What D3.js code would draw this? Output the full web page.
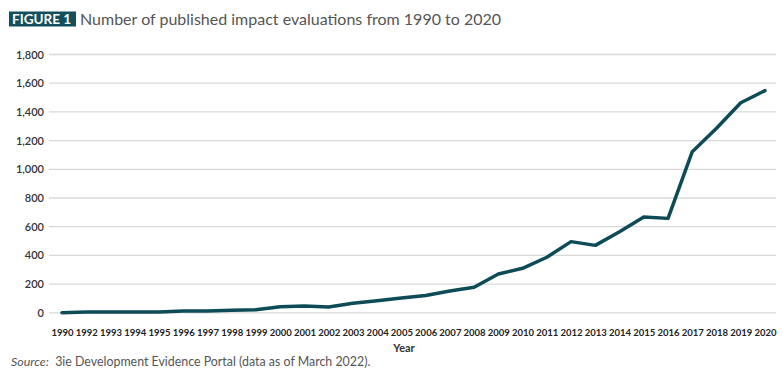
<!DOCTYPE html>
<html>
<head>
<meta charset="utf-8">
<script src="https://cdn.jsdelivr.net/npm/d3@7"></script>
<style>
  body { margin: 0; background: #fff; }
  svg { display: block; font-family: Lato, "Open Sans", sans-serif; }
</style>
</head>
<body>
<svg id="chart" width="783" height="374"></svg>
<script>
// data (1991 is absent in the original axis)
const years = ["1990", "1992", "1993", "1994", "1995", "1996", "1997", "1998", "1999", "2000",
  "2001", "2002", "2003", "2004", "2005", "2006", "2007", "2008", "2009", "2010",
  "2011", "2012", "2013", "2014", "2015", "2016", "2017", "2018", "2019", "2020"];
const evaluations = [1, 5, 5, 5, 6, 12, 12, 17, 22, 42,
  47, 41, 66, 84, 103, 120, 152, 178, 270, 310,
  387, 496, 470, 565, 668, 658, 1123, 1286, 1464, 1548];
const yTicks = [0, 200, 400, 600, 800, 1000, 1200, 1400, 1600, 1800];

const teal = "#0d4b57";
const svg = d3.select("#chart");

const x = d3.scalePoint()
    .domain(years)
    .range([62, 765]);

const y = d3.scaleLinear()
    .domain([0, 1800])
    .range([312.8, 54.5]);

// Title
svg.append("rect")
    .attr("x", 9).attr("y", 11.5)
    .attr("width", 67).attr("height", 15)
    .attr("fill", "#134f5c");
svg.append("text")
    .attr("x", 12).attr("y", 24)
    .attr("fill", "#fff")
    .attr("font-size", 13.5)
    .attr("font-weight", 700)
    .text("FIGURE 1");
svg.append("text")
    .attr("x", 80).attr("y", 24.5)
    .attr("fill", "#555")
    .attr("font-size", 16)
    .text("Number of published impact evaluations from 1990 to 2020");

// Gridlines
svg.append("g")
    .selectAll("line")
    .data(yTicks)
    .join("line")
    .attr("x1", 49).attr("x2", 776)
    .attr("y1", d => y(d)).attr("y2", d => y(d))
    .attr("stroke", "#d9d9d9")
    .attr("stroke-width", 1.3);

// Y axis labels
const yAxis = svg.append("g")
    .attr("transform", "translate(49,0)")
    .call(d3.axisLeft(y).tickValues(yTicks).tickFormat(d3.format(",")).tickSize(0).tickPadding(5));
yAxis.select(".domain").remove();
yAxis.selectAll("text")
    .attr("font-family", "Lato, sans-serif")
    .attr("font-size", 11)
    .attr("font-weight", 600)
    .attr("fill", "#333");

// X axis labels
const xAxis = svg.append("g")
    .attr("transform", "translate(0,329)")
    .call(d3.axisBottom(x).tickSize(0).tickPadding(0));
xAxis.select(".domain").remove();
xAxis.selectAll("text")
    .attr("font-family", "Lato, sans-serif")
    .attr("font-size", 9.5)
    .attr("font-weight", 700)
    .attr("fill", "#222");

svg.append("text")
    .attr("x", 404).attr("y", 352)
    .attr("text-anchor", "middle")
    .attr("font-size", 11)
    .attr("font-weight", 700)
    .attr("fill", "#333")
    .text("Year");

// Line
const line = d3.line()
    .x((d, i) => x(years[i]))
    .y(d => y(d));

svg.append("path")
    .datum(evaluations)
    .attr("fill", "none")
    .attr("stroke", teal)
    .attr("stroke-width", 3.5)
    .attr("stroke-linejoin", "round")
    .attr("stroke-linecap", "round")
    .attr("d", line);

// Source note
const src = svg.append("text")
    .attr("x", 11).attr("y", 366)
    .attr("font-size", 12.4)
    .attr("fill", "#555");
src.append("tspan").attr("font-style", "italic").text("Source:");
src.append("tspan").text("  3ie Development Evidence Portal (data as of March 2022).")
    .attr("xml:space", "preserve");
</script>
</body>
</html>
